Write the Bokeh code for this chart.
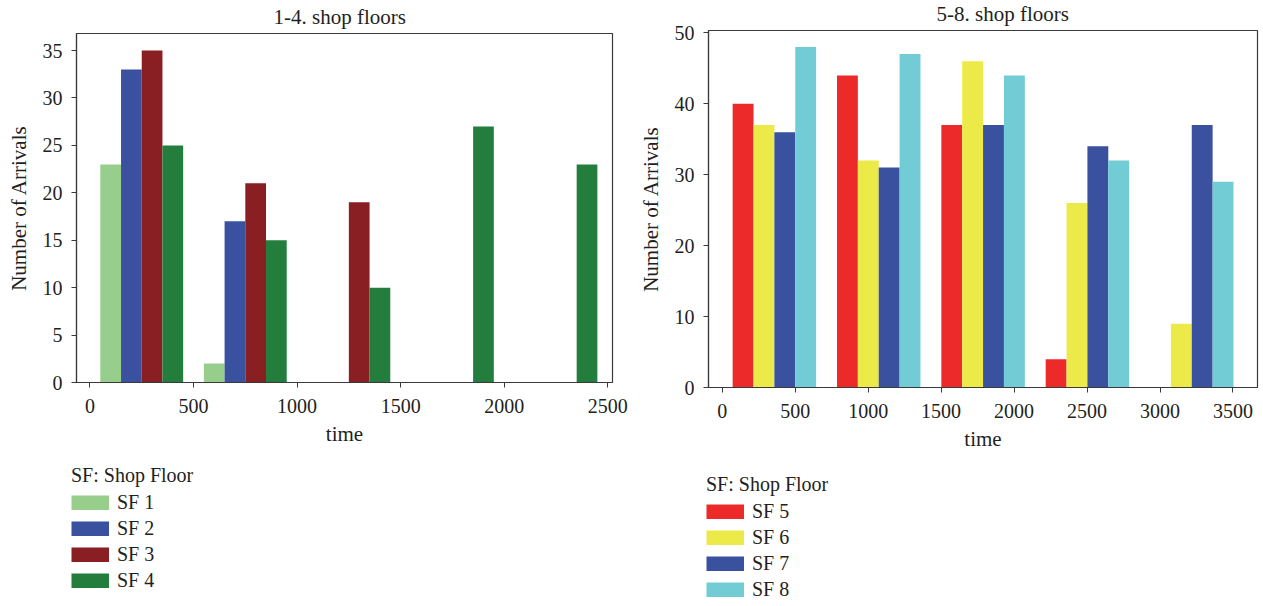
from bokeh.plotting import figure
from bokeh.models import Range1d, FixedTicker, Legend, LegendItem
from bokeh.layouts import row, column
from bokeh.embed import file_html
from bokeh.resources import INLINE

# ---------------- data ----------------
left_title = "1-4. shop floors"
left_bin_starts = [0, 500, 1000, 1500, 2000]
left_bin_width = 500
left_names = ["SF 1", "SF 2", "SF 3", "SF 4"]
sf1 = [23, 2, 0, 0, 0]
sf2 = [33, 17, 0, 0, 0]
sf3 = [35, 21, 19, 0, 0]
sf4 = [25, 15, 10, 27, 23]
left_colors = ["#98ce8c", "#3a51a0", "#891e23", "#237e3d"]
left_xticks = [0, 500, 1000, 1500, 2000, 2500]
left_yticks = [0, 5, 10, 15, 20, 25, 30, 35]

right_title = "5-8. shop floors"
right_bin_starts = [0, 715, 1430, 2145, 2860]
right_bin_width = 715
right_names = ["SF 5", "SF 6", "SF 7", "SF 8"]
sf5 = [40, 44, 37, 4, 0]
sf6 = [37, 32, 46, 26, 9]
sf7 = [36, 31, 37, 34, 37]
sf8 = [48, 47, 44, 32, 29]
right_colors = ["#ec2a2a", "#ecea48", "#3a51a0", "#72ccd6"]
right_xticks = [0, 500, 1000, 1500, 2000, 2500, 3000, 3500]
right_yticks = [0, 10, 20, 30, 40, 50]

legend_title = "SF: Shop Floor"
x_label = "time"
y_label = "Number of Arrivals"

FONT = "Liberation Serif"
TXT = "#231f20"
LINE = "#3a3a3a"


def make_panel(title, bin_starts, bin_width, series, colors, xticks, yticks,
               xr, yr, width, height, bl, br, bt, bb, title_offset, title_standoff):
    p = figure(width=width, height=height, output_backend="svg", toolbar_location=None,
               x_range=Range1d(*xr), y_range=Range1d(*yr),
               min_border_left=bl, min_border_right=br, min_border_top=bt,
               min_border_bottom=bb)
    p.title.text = title
    p.title.text_font = FONT
    p.title.text_font_size = "21px"
    p.title.text_font_style = "normal"
    p.title.text_color = TXT
    p.title.align = "left"
    p.title.vertical_align = "top"
    p.title.offset = title_offset
    p.title.standoff = title_standoff
    p.grid.visible = False
    p.outline_line_color = LINE
    p.outline_line_width = 1.2
    p.background_fill_color = "white"
    p.border_fill_color = "white"

    bw = bin_width / 5.0
    for i, (vals, col) in enumerate(zip(series, colors)):
        xs = [b + (i + 1) * bw for b in bin_starts]
        p.vbar(x=xs, top=vals, width=bw, bottom=0, fill_color=col, line_color=None)

    for ax, ticks in ((p.xaxis[0], xticks), (p.yaxis[0], yticks)):
        ax.ticker = FixedTicker(ticks=ticks)
        ax.minor_tick_line_color = None
        ax.major_tick_in = 0
        ax.major_tick_out = 5
        ax.major_tick_line_color = LINE
        ax.axis_line_color = LINE
        ax.axis_line_width = 1.2
        ax.major_label_text_font = FONT
        ax.major_label_text_font_size = "20px"
        ax.major_label_text_color = TXT
        ax.axis_label_text_font = FONT
        ax.axis_label_text_font_size = "21px"
        ax.axis_label_text_font_style = "normal"
        ax.axis_label_text_color = TXT
    p.xaxis.axis_label = x_label
    p.yaxis.axis_label = y_label
    p.xaxis.major_label_standoff = 11
    p.yaxis.major_label_standoff = 9
    p.xaxis.axis_label_standoff = 6
    p.yaxis.axis_label_standoff = 9
    return p


def make_legend(names, colors, width, height, loc):
    q = figure(width=width, height=height, output_backend="svg", toolbar_location=None,
               x_range=Range1d(0, 1), y_range=Range1d(0, 1),
               x_axis_location=None, y_axis_location=None,
               min_border_left=0, min_border_right=0, min_border_top=0, min_border_bottom=0)
    q.grid.visible = False
    q.outline_line_color = None
    q.background_fill_color = "white"
    q.border_fill_color = "white"
    items = []
    for name, col in zip(names, colors):
        # legend-key renderer placed outside the visible range (draws a solid swatch)
        r = q.line(x=[-10, -9], y=[-10, -10], line_color=col, line_width=15, line_cap="butt")
        items.append(LegendItem(label=name, renderers=[r]))
    leg = Legend(items=items, location=loc, title=legend_title,
                 title_text_font=FONT, title_text_font_size="20px",
                 title_text_font_style="normal", title_text_color=TXT,
                 title_standoff=4,
                 label_text_font=FONT, label_text_font_size="20px", label_text_color=TXT,
                 glyph_width=38, glyph_height=15, label_height=15, label_standoff=8,
                 spacing=3, padding=0, margin=0, border_line_color=None,
                 background_fill_alpha=0)
    q.add_layout(leg, "center")
    return q


p1 = make_panel(left_title, left_bin_starts, left_bin_width, [sf1, sf2, sf3, sf4],
                left_colors, left_xticks, left_yticks,
                (-65, 2523), (0, 36.8), 635, 460, 76, 23, 33, 78, 197, 6)
p2 = make_panel(right_title, right_bin_starts, right_bin_width, [sf5, sf6, sf7, sf8],
                right_colors, right_xticks, right_yticks,
                (-94, 3668), (0, 50.33), 628, 460, 72, 6, 30, 73, 228, 3.5)
l1 = make_legend(left_names, left_colors, 635, 146, (71, 14))
l2 = make_legend(right_names, right_colors, 628, 146, (71, 5))

layout = column(row(column(p1), column(p2)), row(l1, l2))
open("out.html", "w").write(file_html(layout, INLINE))
